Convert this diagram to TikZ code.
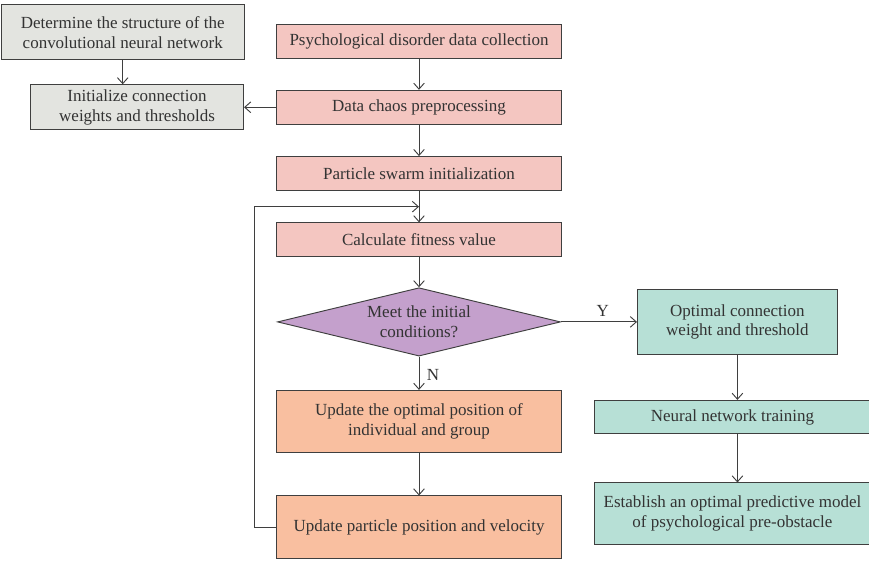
\documentclass[tikz,border=0pt]{standalone}
\usepackage{fontspec}
\setmainfont{Liberation Serif}
\usepackage{tikz}
\usetikzlibrary{shapes.geometric, arrows.meta, positioning, calc}

\definecolor{greybox}{HTML}{E3E4E0}
\definecolor{pinkbox}{HTML}{F4C6C1}
\definecolor{violetbox}{HTML}{C4A0CC}
\definecolor{peachbox}{HTML}{F9BFA0}
\definecolor{tealbox}{HTML}{B7E0D6}
\definecolor{edge}{HTML}{3F3F3F}
\definecolor{ink}{HTML}{333333}

\begin{document}
\begin{tikzpicture}[
  node distance=0.94cm and 0.96cm,
  box/.style={rectangle, draw=edge, line width=0.8pt, align=center,
              inner sep=2pt, text=ink, font=\fontsize{14.5}{16.8}\selectfont},
  greyb/.style={box, fill=greybox},
  pinkb/.style={box, fill=pinkbox, minimum width=8.55cm, minimum height=1.02cm},
  peachb/.style={box, fill=peachbox, minimum width=8.55cm, minimum height=1.87cm},
  tealb/.style={box, fill=tealbox},
  decide/.style={diamond, draw=edge, line width=0.8pt, fill=violetbox, align=center,
                 shape aspect=4.1, inner sep=0pt, minimum width=8.49cm,
                 minimum height=2.05cm, text=ink, font=\fontsize{14.5}{16.8}\selectfont},
  arrow/.style={-{Straight Barb[length=1.8mm, width=3.2mm]}, draw=edge, line width=0.8pt},
  lbl/.style={text=ink, font=\fontsize{14.5}{17}\selectfont}
]
\useasboundingbox (0,0) rectangle (26.07,-16.83);

% main column
\node[pinkb] (collect) at (12.57,-1.23) {Psychological disorder data collection};
\node[pinkb, below=of collect] (chaos) {Data chaos preprocessing};
\node[pinkb, below=of chaos] (swarm) {Particle swarm initialization};
\node[pinkb, below=of swarm] (fitness) {Calculate fitness value};
\node[decide, below=0.9cm of fitness] (meet) {Meet the initial\\conditions?};
\node[peachb, below=1.0cm of meet] (bestpos) {Update the optimal position of\\individual and group};
\node[peachb, below=1.27cm of bestpos] (velo) {Update particle position and velocity};

% left side
\node[greyb, minimum width=6.39cm, minimum height=1.35cm, left=of chaos] (initw)
  {Initialize connection\\weights and thresholds};
\node[greyb, minimum width=7.29cm, minimum height=1.65cm, above=0.72cm of initw, xshift=-0.43cm] (cnn)
  {Determine the structure of the\\convolutional neural network};

% right side
\node[tealb, minimum width=6cm, minimum height=1.93cm, right=2.28cm of meet] (optw)
  {Optimal connection\\weight and threshold};
\node[tealb, minimum width=8.25cm, minimum height=1.0cm, below=1.36cm of optw, xshift=-0.15cm] (train)
  {Neural network training};
\node[tealb, minimum width=8.25cm, minimum height=1.84cm, below=1.45cm of train] (model)
  {Establish an optimal predictive model\\of psychological pre-obstacle};

\draw[arrow] (collect) -- (chaos);
\draw[arrow] (chaos) -- (swarm);
\draw[arrow] (swarm) -- (fitness);
\draw[arrow] (fitness) -- (meet);
\draw[arrow] (meet) -- node[lbl, right=3pt, pos=0.55] {N} (bestpos);
\draw[arrow] (bestpos) -- (velo);
\draw[arrow] (chaos) -- (initw);
\draw[arrow] (cnn.south) -- (cnn.south |- initw.north);
\draw[arrow] (meet) -- node[lbl, above=1pt, pos=0.55] {Y} (optw);
\draw[arrow] (optw) -- (optw |- train.north);
\draw[arrow] (train.south -| optw) -- (optw |- model.north);
\draw[arrow] (velo.west) -- ++(-0.66,0) |- ($(swarm.south)!0.5!(fitness.north)$);

\end{tikzpicture}
\end{document}
